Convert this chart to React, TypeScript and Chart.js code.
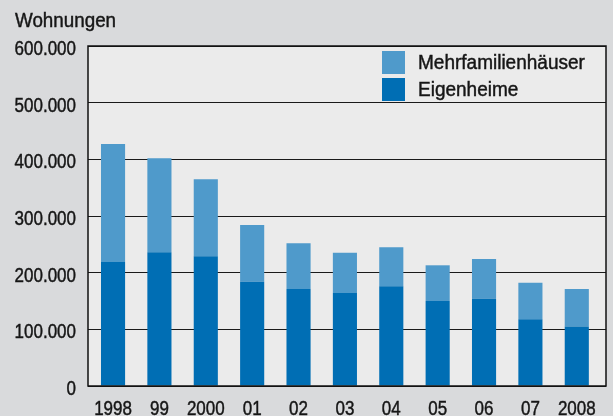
import React, { useEffect, useRef } from "react";
import { Chart, registerables } from "chart.js";

Chart.register(...registerables);

const years = ["1998", "99", "2000", "01", "02", "03", "04", "05", "06", "07", "2008"];
const eigenheime = [219000, 236000, 229000, 184000, 171000, 164000, 176000, 150000, 154000, 118000, 105000];
const mehrfamilienhaeuser = [208000, 166000, 136000, 100000, 81000, 71000, 69000, 63000, 70000, 64000, 66000];
const yTicks = [0, 100000, 200000, 300000, 400000, 500000, 600000];
const seriesNames = ["Eigenheime", "Mehrfamilienhäuser"];
const yTitle = "Wohnungen";

const DARK = "#006eb4";
const LIGHT = "#4f9acb";
const FONT = '"Liberation Sans", Arial, sans-serif';
const TEXT = "#161616";

function fmt(v: number) {
  if (v === 0) return "0";
  const t = Math.round(v / 1000);
  return t + ".000";
}

function narrowText(ctx: CanvasRenderingContext2D, text: string, x: number, y: number, sx: number, align: "left" | "right" | "center") {
  ctx.save();
  ctx.translate(x, y);
  ctx.scale(sx, 1);
  ctx.textAlign = align;
  ctx.textBaseline = "alphabetic";
  ctx.fillText(text, 0, 0);
  ctx.strokeStyle = TEXT;
  ctx.lineWidth = 0.45;
  ctx.strokeText(text, 0, 0);
  ctx.restore();
}

export default function App() {
  const ref = useRef<HTMLCanvasElement | null>(null);
  useEffect(() => {
    if (!ref.current) return;
    const decor = {
      id: "decor",
      beforeDraw(chart: any) {
        const { ctx, chartArea } = chart;
        ctx.save();
        ctx.fillStyle = "#d9dadc";
        ctx.fillRect(0, 0, chart.width, chart.height);
        ctx.fillStyle = "#ebebeb";
        ctx.fillRect(chartArea.left, chartArea.top, chartArea.right - chartArea.left, chartArea.bottom - chartArea.top);
        ctx.restore();
      },
      afterDatasetsDraw(chart: any) {
        const { ctx, chartArea } = chart;
        ctx.save();
        ctx.strokeStyle = "#111";
        ctx.lineWidth = 1.5;
        ctx.strokeRect(chartArea.left, chartArea.top, chartArea.right - chartArea.left, chartArea.bottom - chartArea.top);
        ctx.fillStyle = TEXT;
        ctx.font = `20px ${FONT}`;
        // title
        narrowText(ctx, yTitle, 15, 27, 0.94, "left");
        // y tick labels
        const ys = chart.scales.y;
        ys.ticks.forEach((t: any) => {
          narrowText(ctx, fmt(t.value), chartArea.left - 12, ys.getPixelForValue(t.value) + 9, 0.85, "right");
        });
        // x tick labels
        const xs = chart.scales.x;
        xs.ticks.forEach((t: any) => {
          const lbl = years[Math.round(t.value)];
          if (lbl !== undefined) narrowText(ctx, lbl, xs.getPixelForValue(t.value), 415, 0.85, "center");
        });
        // legend
        const ds = chart.data.datasets;
        const items = [ds[1], ds[0]];
        items.forEach((d: any, i: number) => {
          const y = 51 + i * 27;
          ctx.fillStyle = d.backgroundColor;
          ctx.fillRect(382, y, 23, 23);
          ctx.fillStyle = TEXT;
          narrowText(ctx, d.label, 418, y + 18, 0.95, "left");
        });
        ctx.restore();
      },
    };
    const chart = new Chart(ref.current, {
      type: "bar",
      data: {
        datasets: [
          {
            label: seriesNames[0],
            data: eigenheime.map((v, i) => ({ x: i, y: v })),
            backgroundColor: DARK,
            barPercentage: 0.52,
            categoryPercentage: 1,
          },
          {
            label: seriesNames[1],
            data: mehrfamilienhaeuser.map((v, i) => ({ x: i, y: v })),
            backgroundColor: LIGHT,
            barPercentage: 0.52,
            categoryPercentage: 1,
          },
        ],
      },
      options: {
        responsive: false,
        animation: false,
        layout: { padding: { left: 0, top: 46, right: 7, bottom: 0 } },
        plugins: { legend: { display: false }, tooltip: { enabled: false }, title: { display: false } },
        scales: {
          x: {
            type: "linear",
            stacked: true,
            offset: false,
            min: -0.54,
            max: 10.63,
            grid: { display: false, drawTicks: false },
            border: { display: false },
            afterFit(scale: any) {
              scale.height = 30;
            },
            afterBuildTicks(scale: any) {
              scale.ticks = years.map((_, i) => ({ value: i }));
            },
            ticks: { display: false },
          },
          y: {
            stacked: true,
            min: 0,
            max: 600000,
            afterFit(scale: any) {
              scale.width = 88;
            },
            afterBuildTicks(scale: any) {
              scale.ticks = yTicks.map((v) => ({ value: v }));
            },
            grid: { color: "#1a1a1a", lineWidth: 1, drawTicks: false },
            border: { display: false },
            ticks: { display: false },
          },
        },
      },
      plugins: [decor],
    });
    return () => chart.destroy();
  }, []);
  return (
    <div style={{ position: "fixed", left: 0, top: 0, width: 613, height: 416, background: "#d9dadc" }}>
      <canvas ref={ref} width={613} height={416} />
    </div>
  );
}
